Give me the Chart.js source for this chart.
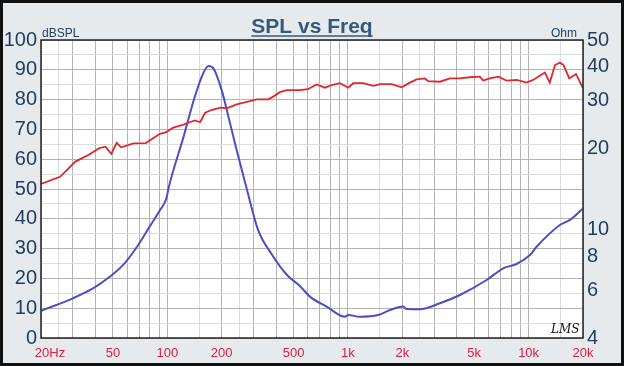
<!DOCTYPE html>
<html lang="en">
<head>
<meta charset="UTF-8">
<title>SPL vs Freq</title>
<script src="https://cdn.jsdelivr.net/npm/chart.js"></script>
<style>
  body { margin: 0; background: #e7eaed; }
  canvas { display: block; }
</style>
</head>
<body>

<canvas id="splChart" width="624" height="366"></canvas>

<script>
// SPL response (dB SPL, left axis)
const splFreq = [20, 25.5, 31, 37, 42, 45.5, 49, 52.5, 55.5, 65, 76, 91, 98, 108, 122, 133, 142, 152, 162, 176, 196, 213, 242, 287, 312, 362, 386, 420, 458, 542, 600, 671, 746, 812, 903, 1004, 1070, 1215, 1380, 1503, 1745, 1982, 2203, 2400, 2667, 2780, 3229, 3667, 4168, 4733, 5376, 5609, 6108, 6792, 7556, 8586, 9750, 10600, 12300, 13100, 14000, 14900, 15600, 16800, 18300, 20000];
const splDb = [51.7, 54.1, 59.2, 61.6, 63.7, 64.2, 61.8, 65.5, 64.0, 65.3, 65.4, 68.5, 69.0, 70.6, 71.5, 72.4, 73.0, 72.4, 75.6, 76.5, 77.3, 77.1, 78.4, 79.5, 80.1, 80.1, 81.0, 82.5, 83.2, 83.2, 83.5, 85.1, 84.0, 84.9, 85.5, 84.0, 85.5, 85.5, 84.6, 85.2, 85.2, 84.1, 85.7, 86.8, 87.1, 86.2, 86.0, 87.1, 87.1, 87.5, 87.7, 86.4, 87.1, 87.7, 86.4, 86.6, 85.7, 86.6, 89.1, 85.7, 91.6, 92.4, 91.6, 87.1, 88.6, 83.8];

// impedance (ohm, right axis)
const impFreq = [20, 30, 39, 48, 57, 68, 80, 91, 99, 101.5, 123, 142, 158, 169, 180, 200, 218, 242, 275, 318, 380, 460, 542, 616, 762, 962, 1004, 1166, 1471, 1708, 2023, 2113, 2502, 3230, 4168, 5856, 7234, 8582, 10168, 11072, 14900, 16930, 20000];
const impOhm = [5.04, 5.6, 6.1, 6.72, 7.43, 8.67, 10.3, 11.8, 13.1, 14.2, 22.0, 30.9, 37.7, 40.1, 39.3, 32.7, 26.1, 19.7, 14.2, 10.0, 8.1, 6.82, 6.22, 5.68, 5.22, 4.79, 4.86, 4.79, 4.86, 5.07, 5.22, 5.11, 5.10, 5.37, 5.76, 6.54, 7.22, 7.49, 8.08, 8.67, 10.42, 10.88, 12.0];

// axes
const freqGrid = [20, 25, 30, 40, 50, 60, 70, 80, 90, 100, 150, 200, 250, 300, 400, 500, 600, 700, 800, 900, 1000, 1500, 2000, 2500, 3000, 4000, 5000, 6000, 7000, 8000, 9000, 10000, 15000, 20000];
const freqLabelValues = [20, 50, 100, 200, 500, 1000, 2000, 5000, 10000, 20000];
const freqLabels = ['20Hz', '50', '100', '200', '500', '1k', '2k', '5k', '10k', '20k'];
const ohmTicks = [4, 6, 8, 10, 20, 30, 40, 50];

const FONT = '"Liberation Sans", Arial, sans-serif';
const NAVY = '#1d3c5e';

// background, frame and the texts around the plot
const framePlugin = {
    id: 'frame',
    beforeDraw(chart) {
        const { ctx, chartArea: a, width, height } = chart;
        ctx.save();
        ctx.fillStyle = '#e7eaed';
        ctx.fillRect(0, 0, width, height);
        ctx.fillStyle = '#ffffff';
        ctx.fillRect(a.left, a.top, a.right - a.left, a.bottom - a.top);
        ctx.restore();
    },
    afterDraw(chart) {
        const { ctx, chartArea: a, width, height } = chart;
        ctx.save();
        // plot border
        ctx.strokeStyle = '#222';
        ctx.lineWidth = 1.5;
        ctx.strokeRect(a.left, a.top, a.right - a.left, a.bottom - a.top);

        // title, underlined
        ctx.fillStyle = '#34597b';
        ctx.font = 'bold 21px ' + FONT;
        ctx.textAlign = 'center';
        ctx.textBaseline = 'alphabetic';
        ctx.fillText('SPL vs Freq', 312, 33);
        const w = ctx.measureText('SPL vs Freq').width;
        ctx.strokeStyle = '#34597b';
        ctx.lineWidth = 1.5;
        ctx.beginPath();
        ctx.moveTo(312 - w / 2, 36);
        ctx.lineTo(312 + w / 2, 36);
        ctx.stroke();

        // axis units
        ctx.fillStyle = NAVY;
        ctx.font = '12px ' + FONT;
        ctx.textAlign = 'left';
        ctx.fillText('dBSPL', a.left + 1, 37);
        ctx.textAlign = 'right';
        ctx.fillText('Ohm', a.right - 6, 37);

        // LMS mark
        ctx.fillStyle = '#111';
        ctx.font = 'italic 12px "DejaVu Serif", serif';
        ctx.textAlign = 'left';
        ctx.fillText('LMS', 551, 333);

        // outer frame
        ctx.strokeStyle = '#111';
        ctx.lineWidth = 3;
        ctx.strokeRect(1.5, 1.5, width - 3, height - 3);
        ctx.restore();
    }
};

const majorGrid = '#b3b3b3';
const minorGrid = '#dcdcdc';

new Chart(document.getElementById('splChart'), {
    type: 'line',
    data: {
        datasets: [
            {
                label: 'SPL',
                data: splFreq.map((f, i) => ({ x: f, y: splDb[i] })),
                yAxisID: 'y',
                borderColor: '#e3262c',
                borderWidth: 1.8,
                pointRadius: 0,
                tension: 0
            },
            {
                label: 'Impedance',
                data: impFreq.map((f, i) => ({ x: f, y: impOhm[i] })),
                yAxisID: 'y2',
                borderColor: '#4a50c2',
                borderWidth: 2,
                pointRadius: 0,
                cubicInterpolationMode: 'monotone'
            }
        ]
    },
    options: {
        responsive: false,
        animation: false,
        events: [],
        layout: { padding: { top: 40, left: 0, right: 0, bottom: 0 } },
        plugins: { legend: { display: false }, tooltip: { enabled: false } },
        scales: {
            x: {
                type: 'logarithmic',
                min: 20,
                max: 20000,
                afterBuildTicks: s => { s.ticks = freqGrid.map(v => ({ value: v })); },
                afterFit: s => { s.height = 28; },
                border: { display: false },
                grid: {
                    drawTicks: false,
                    color: c => {
                        const v = c.tick ? c.tick.value : 0;
                        const m = v / Math.pow(10, Math.floor(Math.log10(v) + 1e-9));
                        return Math.abs(m - Math.round(m)) < 1e-6 ? majorGrid : minorGrid;
                    }
                },
                ticks: {
                    autoSkip: false,
                    maxRotation: 0,
                    padding: 8,
                    color: '#dc1e3c',
                    font: { family: FONT, size: 13 },
                    callback: v => {
                        const i = freqLabelValues.indexOf(v);
                        if (i < 0) return '';
                        return i === 0 ? '     ' + freqLabels[0] : freqLabels[i];
                    }
                }
            },
            y: {
                type: 'linear',
                position: 'left',
                min: 0,
                max: 100,
                afterFit: s => { s.width = 41; },
                border: { display: false },
                grid: {
                    drawTicks: false,
                    color: c => (c.tick && c.tick.value % 10 === 0) ? majorGrid : minorGrid
                },
                ticks: {
                    stepSize: 5,
                    autoSkip: false,
                    padding: 4,
                    color: NAVY,
                    font: { family: FONT, size: 20 },
                    callback: v => v % 10 === 0 ? String(v) : ''
                }
            },
            y2: {
                type: 'logarithmic',
                position: 'right',
                min: 4,
                max: 50,
                afterBuildTicks: s => { s.ticks = ohmTicks.map(v => ({ value: v })); },
                afterFit: s => { s.width = 41; },
                border: { display: false },
                grid: { display: false, drawTicks: false },
                ticks: {
                    autoSkip: false,
                    padding: 4,
                    color: NAVY,
                    font: { family: FONT, size: 20 },
                    callback: v => String(v)
                }
            }
        }
    },
    plugins: [framePlugin]
});
</script>

</body>
</html>
